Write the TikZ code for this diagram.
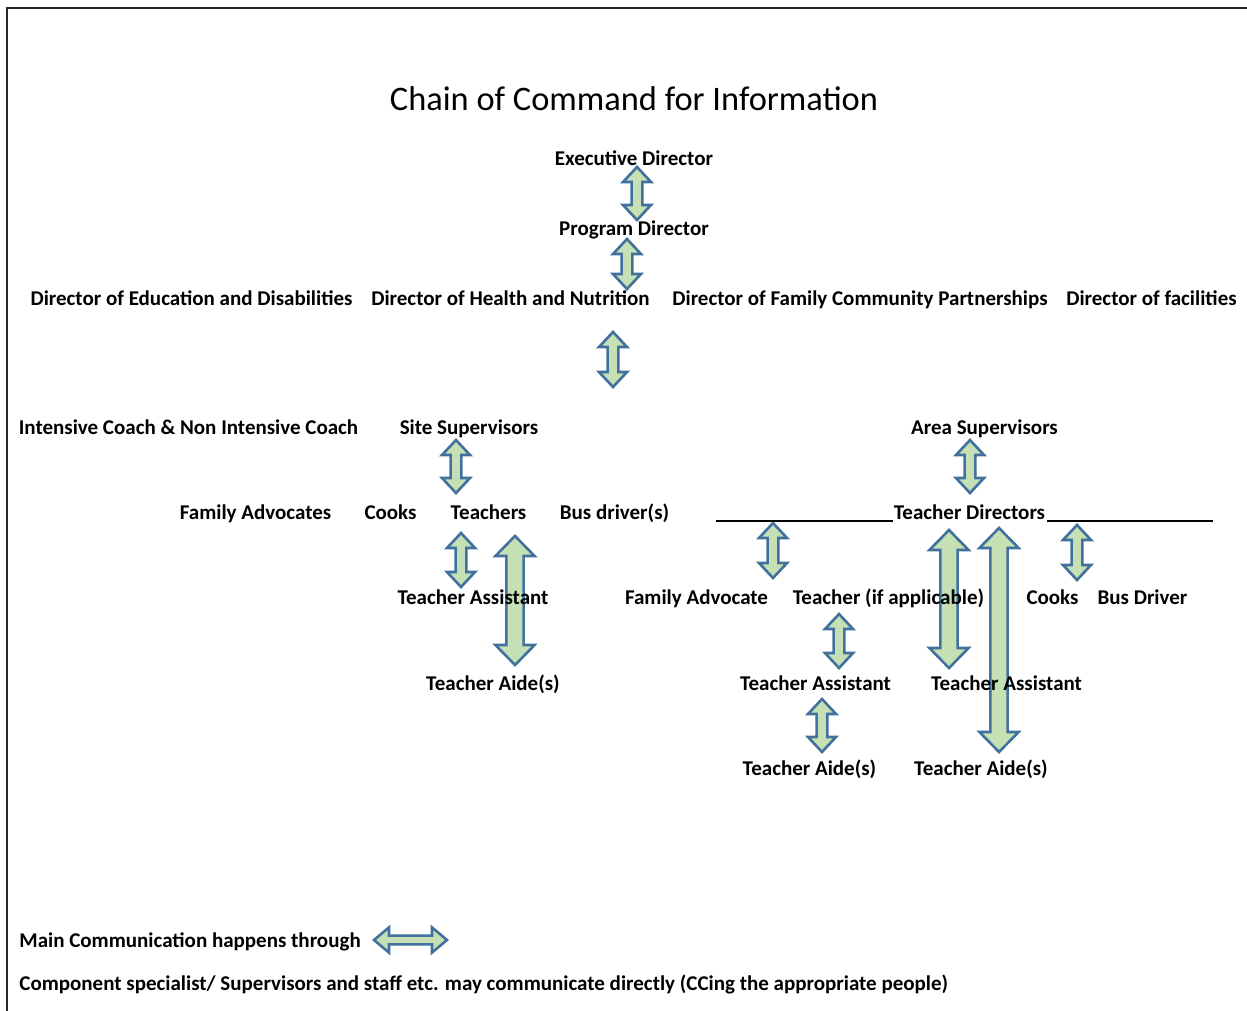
\documentclass[tikz,border=0pt]{standalone}
\usepackage{fontspec}
\setmainfont{Carlito}
\usetikzlibrary{calc}
\definecolor{arrowfill}{HTML}{C5E0B4}
\definecolor{arrowline}{HTML}{41719C}
\tikzset{
  lbl/.style={font=\bfseries\fontsize{10.5}{12}\selectfont, inner sep=0pt, text height=1.5ex, text depth=.3ex, yshift=-0.8pt},
  blockarrow/.style={fill=arrowfill, draw=arrowline, line width=1.3pt, line join=miter},
}
% vertical double block arrow: top, bottom, shaft half width, head half width, head length
\newcommand{\vblock}[5]{%
  \draw[blockarrow] let \p1=(#1), \p2=(#2) in
    (\x1,\y1) -- (\x1+#4,\y1-#5) -- (\x1+#3,\y1-#5) -- (\x1+#3,\y2+#5) -- (\x1+#4,\y2+#5)
    -- (\x1,\y2) -- (\x1-#4,\y2+#5) -- (\x1-#3,\y2+#5) -- (\x1-#3,\y1-#5) -- (\x1-#4,\y1-#5) -- cycle;}
% horizontal double block arrow: left, right, shaft half width, head half width, head length
\newcommand{\hblock}[5]{%
  \draw[blockarrow] let \p1=(#1), \p2=(#2) in
    (\x1,\y1) -- (\x1+#5,\y1+#4) -- (\x1+#5,\y1+#3) -- (\x2-#5,\y1+#3) -- (\x2-#5,\y1+#4)
    -- (\x2,\y1) -- (\x2-#5,\y1-#4) -- (\x2-#5,\y1-#3) -- (\x1+#5,\y1-#3) -- (\x1+#5,\y1-#4) -- cycle;}
\begin{document}
\begin{tikzpicture}[x=0.5pt, y=-0.5pt]
  \useasboundingbox (0,0) rectangle (1247,1011);
  % Rahmen
  \draw[line width=1.1pt, black!85] (7,1011) -- (7,8) -- (1247,8);

  % Pfeilenden
  \coordinate (a1t) at (637,167);  \coordinate (a1b) at (637,220);
  \coordinate (a2t) at (627,239);  \coordinate (a2b) at (627,289);
  \coordinate (a3t) at (613,332);  \coordinate (a3b) at (613,387);
  \coordinate (a4t) at (456,440);  \coordinate (a4b) at (456,493);
  \coordinate (a5t) at (461,533);  \coordinate (a5b) at (461,587);
  \coordinate (a6t) at (515,536);  \coordinate (a6b) at (515,665);
  \coordinate (a7t) at (970,440);  \coordinate (a7b) at (970,493);
  \coordinate (a8t) at (773,523);  \coordinate (a8b) at (773,578);
  \coordinate (a9t) at (949,530);  \coordinate (a9b) at (949,668);
  \coordinate (a10t) at (999,528); \coordinate (a10b) at (999,752);
  \coordinate (a11t) at (1077,525); \coordinate (a11b) at (1077,580);
  \coordinate (a12t) at (839,614); \coordinate (a12b) at (839,668);
  \coordinate (a13t) at (822,699); \coordinate (a13b) at (822,752);

  % Pfeile (unter dem Text)
  \foreach \a in {a1,a2,a3,a4,a5,a7,a8,a11,a12,a13}
    \vblock{\a t}{\a b}{2.7pt}{7pt}{7.5pt};
  \foreach \a in {a6,a9,a10}
    \vblock{\a t}{\a b}{4.3pt}{9.8pt}{10pt};

  \node[font=\fontsize{17.2}{20}\selectfont, inner sep=0pt] (title) at (634,99) {Chain of Command for Information};

  % obere Ebene
  \node[lbl] (exec) at (634,158) {Executive Director};
  \node[lbl] (prog) at (634,228) {Program Director};
  \node[lbl] (dired) at (191.5,298) {Director of Education and Disabilities};
  \node[lbl] (dirhn) at (510.5,298) {Director of Health and Nutrition};
  \node[lbl] (dirfcp) at (860,298) {Director of Family Community Partnerships};
  \node[lbl] (dirfac) at (1151.5,298) {Director of facilities};

  % Supervisors
  \node[lbl] (coach) at (188.5,427) {Intensive Coach \& Non Intensive Coach};
  \node[lbl] (sitesup) at (469,427) {Site Supervisors};
  \node[lbl] (areasup) at (984.5,427) {Area Supervisors};

  % linke Seite
  \node[lbl] (famadv) at (255.5,512) {Family Advocates};
  \node[lbl] (cooks) at (390.5,512) {Cooks};
  \node[lbl] (teachers) at (488.5,512) {Teachers};
  \node[lbl] (busdrv) at (614.5,512) {Bus driver(s)};
  \node[lbl] (tassist) at (473,597) {Teacher Assistant};
  \node[lbl] (taide) at (493,683) {Teacher Aide(s)};

  % rechte Seite
  \node[lbl] (tdir) at (969.5,512) {Teacher Directors};
  \draw[line width=0.8pt] (716,521) -- (893,521);
  \draw[line width=0.8pt] (1047,521) -- (1213,521);
  \node[lbl] (famadvr) at (696.5,597) {Family Advocate};
  \node[lbl] (teacherr) at (888.5,597) {Teacher (if applicable)};
  \node[lbl] (cooksr) at (1052.5,597) {Cooks};
  \node[lbl] (busdrvr) at (1142.5,597) {Bus Driver};
  \node[lbl] (tassista) at (815.5,683) {Teacher Assistant};
  \node[lbl] (tassistb) at (1006.5,683) {Teacher Assistant};
  \node[lbl] (taidea) at (809.5,768) {Teacher Aide(s)};
  \node[lbl] (taideb) at (981,768) {Teacher Aide(s)};

  % Legende
  \node[lbl, anchor=west] (legmain) at (19,940) {Main Communication happens through};
  \coordinate (legl) at (374,940); \coordinate (legr) at (447,940);
  \hblock{legl}{legr}{2.2pt}{6.3pt}{7.5pt};
  \node[lbl, anchor=west] (legcomp) at (19,983) {Component specialist/ Supervisors and staff etc. may communicate directly (CCing the appropriate people)};
\end{tikzpicture}
\end{document}
